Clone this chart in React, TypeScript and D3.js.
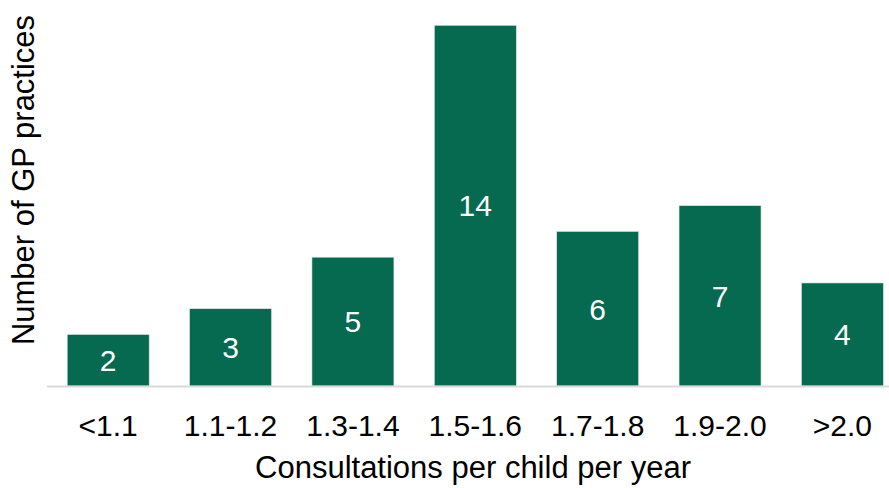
import React from "react";
import * as d3 from "d3";

const categories = ["<1.1", "1.1-1.2", "1.3-1.4", "1.5-1.6", "1.7-1.8", "1.9-2.0", ">2.0"];
const values = [2, 3, 5, 14, 6, 7, 4];
const xTitle = "Consultations per child per year";
const yTitle = "Number of GP practices";

export default function App() {
  const W = 889;
  const H = 488;
  const x = d3.scaleBand<string>().domain(categories).range([47, 903.6]).paddingInner(0.33).paddingOuter(0.165);
  const y = d3.scaleLinear().domain([0, 14]).range([386, 25.3]);
  const font = "'Liberation Sans', Arial, Helvetica, sans-serif";
  return (
    <svg width={W} height={H} style={{ position: "absolute", left: 0, top: 0, background: "#fff" }} fontFamily={font}>
      {categories.map((c, i) => {
        const v = values[i];
        const x0 = x(c)!;
        const bw = x.bandwidth();
        const yt = y(v);
        const yb = y(0);
        return (
          <g key={c}>
            <rect x={x0} y={yt} width={bw} height={yb - yt} fill="#056a4f" stroke="#dfe9e4" strokeWidth={0.6} />
            <text x={x0 + bw / 2} y={(yt + yb) / 2 + 10.8} textAnchor="middle" fontSize={30} fill="#ffffff">
              {v}
            </text>
            <text x={x0 + bw / 2} y={436} textAnchor="middle" fontSize={30} fill="#000">
              {c}
            </text>
          </g>
        );
      })}
      <line x1={47} x2={W} y1={386.5} y2={386.5} stroke="#d9d9d9" strokeWidth={2} />
      <text x={473} y={478} textAnchor="middle" fontSize={31} fill="#000">
        {xTitle}
      </text>
      <text transform={`translate(34,180) rotate(-90)`} textAnchor="middle" fontSize={31} fill="#000">
        {yTitle}
      </text>
    </svg>
  );
}
